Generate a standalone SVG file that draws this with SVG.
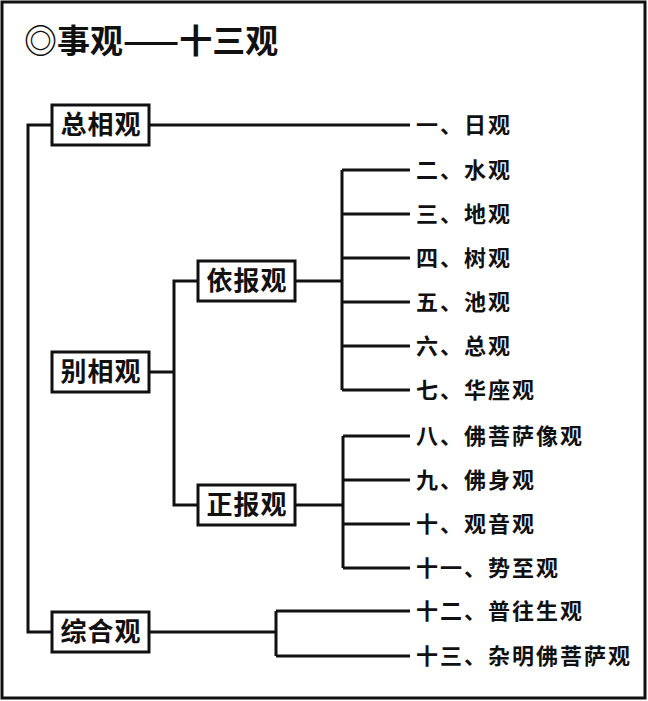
<svg xmlns="http://www.w3.org/2000/svg" width="648" height="701" viewBox="0 0 648 701">
<style>
text{font-family:"Noto Sans CJK SC","Noto Sans",sans-serif;font-weight:bold;fill:#111}
.n{font-size:22px;letter-spacing:2px}
.b text{font-size:26px;letter-spacing:1px}
.b rect{fill:#fff;stroke:#111;stroke-width:3}
.c{fill:none;stroke:#111;stroke-width:3}
</style>
<rect x="0" y="0" width="648" height="701" fill="#fff"/>
<rect x="2" y="2" width="643" height="696" fill="none" stroke="#111" stroke-width="3"/>
<text x="24" y="53" style="font-size:33px">◎事观——十三观</text>
<g class="c" id="connectors">
<path d="M52 125H28V632H52M149 125H410"/>
<path d="M149 372H174M198 281H174V505H198"/>
<path d="M295 281H342M342 170V390M342 170H410M342 214H410M342 258H410M342 302H410M342 346H410M342 390H410"/>
<path d="M295 505H343M343 436V568M343 436H410M343 480H410M343 524H410M343 568H410"/>
<path d="M149 632H276M276 611V656M276 611H410M276 656H410"/>
</g>
<g class="b" id="n1"><rect x="52" y="105" width="97" height="40"/><text x="101" y="134" text-anchor="middle">总相观</text></g>
<g class="b" id="n2"><rect x="52" y="352" width="97" height="40"/><text x="101" y="381" text-anchor="middle">别相观</text></g>
<g class="b" id="n3"><rect x="52" y="612" width="97" height="40"/><text x="101" y="641" text-anchor="middle">综合观</text></g>
<g class="b" id="n4"><rect x="198" y="261" width="97" height="40"/><text x="247" y="290" text-anchor="middle">依报观</text></g>
<g class="b" id="n5"><rect x="198" y="485" width="97" height="40"/><text x="247" y="514" text-anchor="middle">正报观</text></g>
<g id="leaves">
<text class="n" x="416" y="133">一、日观</text>
<text class="n" x="416" y="178">二、水观</text>
<text class="n" x="416" y="222">三、地观</text>
<text class="n" x="416" y="266">四、树观</text>
<text class="n" x="416" y="310">五、池观</text>
<text class="n" x="416" y="354">六、总观</text>
<text class="n" x="416" y="398">七、华座观</text>
<text class="n" x="416" y="444">八、佛菩萨像观</text>
<text class="n" x="416" y="488">九、佛身观</text>
<text class="n" x="416" y="532">十、观音观</text>
<text class="n" x="416" y="576">十一、势至观</text>
<text class="n" x="416" y="619">十二、普往生观</text>
<text class="n" x="416" y="664">十三、杂明佛菩萨观</text>
</g>
</svg>
